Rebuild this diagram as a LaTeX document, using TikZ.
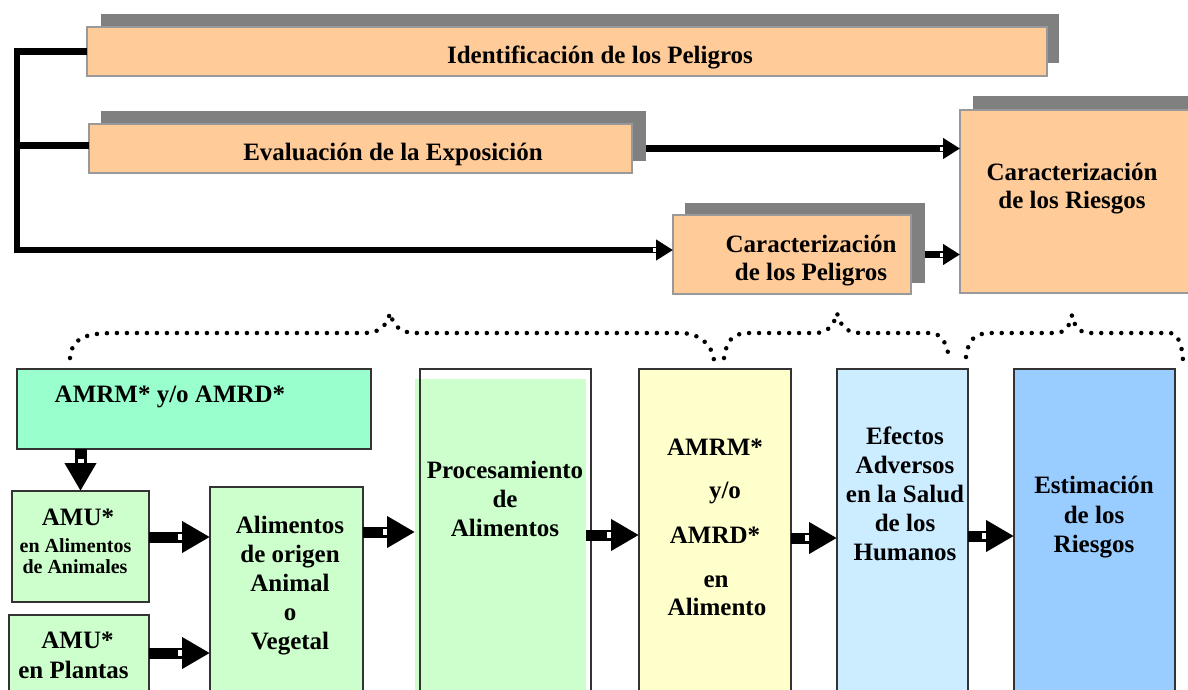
\documentclass[tikz,border=0pt]{standalone}
\usepackage{fontspec}
\setmainfont{Liberation Serif}
\usetikzlibrary{arrows.meta,decorations.markings}
\definecolor{orangebox}{HTML}{FFCC99}
\definecolor{shadowgray}{HTML}{808080}
\definecolor{orangeedge}{HTML}{999999}
\definecolor{mintbox}{HTML}{99FFCC}
\definecolor{greenbox}{HTML}{CCFFCC}
\definecolor{yellowbox}{HTML}{FFFFCC}
\definecolor{lightbluebox}{HTML}{CCECFF}
\definecolor{bluebox}{HTML}{99CCFF}
\definecolor{edgedark}{HTML}{333333}
\newcommand\bigfont{\fontsize{25}{29}\selectfont\bfseries}
\newcommand\smallfont{\fontsize{20}{24}\selectfont\bfseries}
\tikzset{
  rbox/.style={rectangle, inner sep=0pt, outer sep=0pt, anchor=north west},
  shadowbox/.style={rbox, fill=shadowgray},
  orangerect/.style={rbox, fill=orangebox, draw=orangeedge, line width=1.2pt},
  lowbox/.style={rbox, draw=edgedark, line width=1.5pt},
  txt/.style={inner sep=0pt, anchor=base, font=\bigfont},
  smalltxt/.style={inner sep=0pt, anchor=base, font=\smallfont},
  bracketline/.style={line width=6.5pt, line join=miter, line cap=butt},
  uparrow/.style={line width=7pt, -{Triangle[length=17pt,width=20pt]},
     postaction={decorate},
     decoration={markings, mark=at position -17pt with {\fill[white] (-3pt,-2pt) rectangle (0pt,2pt);}}},
  lowarrow/.style={line width=11pt, -{Triangle[length=28pt,width=30pt]},
     postaction={decorate},
     decoration={markings, mark=at position -28pt with {\fill[white] (-4pt,-3pt) rectangle (0pt,3pt);}}},
  bracedots/.style={line width=4.5pt, line cap=round, dash pattern=on 0pt off 10pt},
}
\begin{document}
\begin{tikzpicture}[x=1pt,y=-1pt]
\useasboundingbox (0,0) rectangle (1188,689);
\clip (0,0) rectangle (1188,689);
\fill[white] (0,0) rectangle (1188,689);

% ---------- upper part ----------
\node[shadowbox, minimum width=958pt, minimum height=49pt] (identsh) at (101,14) {};
\node[orangerect, minimum width=960pt, minimum height=49pt] (ident) at (87,27) {};
\node[txt] (identtxt) at (600,63) {Identificación de los Peligros};

\node[shadowbox, minimum width=545pt, minimum height=50pt] (evalsh) at (101,111) {};
\node[orangerect, minimum width=543pt, minimum height=49pt] (eval) at (89,124) {};
\node[txt] (evaltxt) at (393,160) {Evaluación de la Exposición};

\node[shadowbox, minimum width=240pt, minimum height=80pt] (peligsh) at (685,203) {};
\node[orangerect, minimum width=238pt, minimum height=79pt] (pelig) at (673,215) {};
\node[txt] (peligtxt1) at (811,252) {Caracterización};
\node[txt] (peligtxt2) at (811,280) {de los Peligros};

\node[shadowbox, minimum width=240pt, minimum height=120pt] (riesgossh) at (973,96) {};
\node[orangerect, minimum width=240pt, minimum height=183pt] (riesgos) at (960,110) {};
\node[txt] (riesgostxt1) at (1072,180) {Caracterización};
\node[txt] (riesgostxt2) at (1072,208) {de los Riesgos};

\coordinate (lb) at (17,250);
\draw[uparrow, bracketline] (ident.west) -- (ident.west -| lb) -- (lb) -- (lb -| pelig.west);
\draw[bracketline] ([yshift=3pt]eval.west) -- ([yshift=3pt]eval.west -| lb);
\draw[uparrow] (evalsh.east |- eval.east) -- (eval.east -| riesgos.west);
\draw[uparrow] (peligsh.east |- pelig.east) -- (pelig.east -| riesgos.west);

% ---------- dotted braces ----------
\draw[bracedots] (70,358) .. controls (72,338) and (85,333) .. (115,333) -- (365,333)
  .. controls (380,333) and (387,325) .. (390,313) .. controls (393,325) and (400,333) .. (415,333)
  -- (680,333) .. controls (700,333) and (712,345) .. (714,360);
\draw[bracedots] (724,358) .. controls (727,340) and (732,333) .. (750,333) -- (815,333)
  .. controls (828,333) and (834,325) .. (837,313) .. controls (840,325) and (846,333) .. (860,333)
  -- (930,333) .. controls (942,333) and (948,345) .. (949,360);
\draw[bracedots] (966,357) .. controls (968,340) and (975,333) .. (990,333) -- (1055,333)
  .. controls (1066,333) and (1070,325) .. (1072,315) .. controls (1074,325) and (1078,333) .. (1090,333)
  -- (1170,333) .. controls (1178,333) and (1182,345) .. (1183,360);

% ---------- lower part ----------
\node[lowbox, fill=mintbox, minimum width=354pt, minimum height=80pt] (amrm) at (17,369) {};
\node[txt] (amrmtxt) at (170,402) {AMRM* y/o AMRD*};

\node[lowbox, fill=greenbox, minimum width=137pt, minimum height=111pt] (amu1) at (12,491) {};
\node[txt] (amu1a) at (78,525) {AMU*};
\node[smalltxt] (amu1b) at (75.5,552) {en Alimentos};
\node[smalltxt] (amu1c) at (75,573) {de Animales};

\node[lowbox, fill=greenbox, minimum width=140pt, minimum height=76pt] (amu2) at (9,615) {};
\node[txt] (amu2a) at (77.5,648) {AMU*};
\node[txt] (amu2b) at (73.5,678) {en Plantas};

\node[lowbox, fill=greenbox, minimum width=153pt, minimum height=210pt] (alim) at (210,487) {};
\node[txt] (alim1) at (290,533) {Alimentos};
\node[txt] (alim2) at (290,562) {de origen};
\node[txt] (alim3) at (290,591) {Animal};
\node[txt] (alim4) at (290,620) {o};
\node[txt] (alim5) at (290,649) {Vegetal};

\node[rbox, fill=greenbox, minimum width=171pt, minimum height=312pt] (procfill) at (415,379) {};
\node[lowbox, minimum width=171pt, minimum height=330pt] (proc) at (420,369) {};
\node[txt] (proc1) at (505,478) {Procesamiento};
\node[txt] (proc2) at (505,507) {de};
\node[txt] (proc3) at (505,536) {Alimentos};

\node[lowbox, fill=yellowbox, minimum width=152pt, minimum height=338pt] (yellow) at (639,369) {};
\node[txt] (yel1) at (715,455) {AMRM*};
\node[txt] (yel2) at (725,498) {y/o};
\node[txt] (yel3) at (715,543) {AMRD*};
\node[txt] (yel4) at (716,587) {en};
\node[txt] (yel5) at (717,615) {Alimento};

\node[lowbox, fill=lightbluebox, minimum width=131pt, minimum height=334pt] (lblue) at (837,369) {};
\node[txt] (lb1) at (905,444) {Efectos};
\node[txt] (lb2) at (905,473) {Adversos};
\node[txt] (lb3) at (905,502) {en la Salud};
\node[txt] (lb4) at (905,531) {de los};
\node[txt] (lb5) at (905,560) {Humanos};

\node[lowbox, fill=bluebox, minimum width=161pt, minimum height=330pt] (blue) at (1014,369) {};
\node[txt] (bl1) at (1094,493) {Estimación};
\node[txt] (bl2) at (1094,523) {de los};
\node[txt] (bl3) at (1094,552) {Riesgos};

% lower arrows
\draw[lowarrow, line width=12pt] (amu1.north |- amrm.south) -- (amu1.north);
\draw[lowarrow] ([yshift=9.5pt]amu1.east) -- ([yshift=9.5pt]amu1.east -| alim.west);
\draw[lowarrow] (amu2.east) -- (amu2.east -| alim.west);
\draw[lowarrow] ([yshift=60pt]alim.east) -- ([yshift=60pt]alim.east -| procfill.west);
\draw[lowarrow] (procfill.east) -- (procfill.east -| yellow.west);
\draw[lowarrow] (yellow.east) -- (yellow.east -| lblue.west);
\draw[lowarrow] (lblue.east) -- (lblue.east -| blue.west);
\end{tikzpicture}
\end{document}
